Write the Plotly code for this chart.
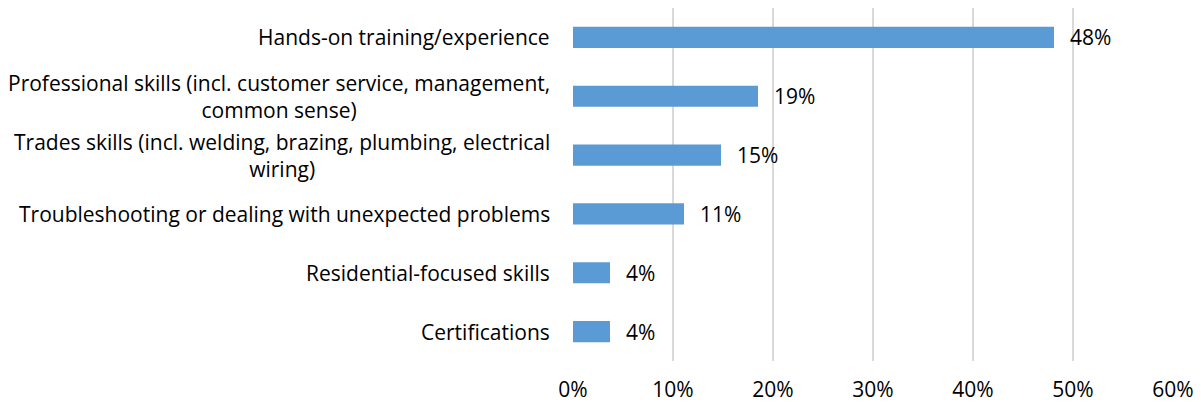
import plotly.graph_objects as go

categories = [
    "Hands-on training/experience",
    "Professional skills (incl. customer service, management,<br>common sense)",
    "Trades skills (incl. welding, brazing, plumbing, electrical<br>wiring)",
    "Troubleshooting or dealing with unexpected problems",
    "Residential-focused skills",
    "Certifications",
]
values = [48.1, 18.5, 14.8, 11.1, 3.7, 3.7]
value_labels = ["48%", "19%", "15%", "11%", "4%", "4%"]
x_ticks = [0, 10, 20, 30, 40, 50, 60]
x_tick_labels = ["0%", "10%", "20%", "30%", "40%", "50%", "60%"]

FONT = "'Open Sans', sans-serif"
FS = 21
ids = list(range(len(categories)))

fig = go.Figure()
fig.add_trace(go.Bar(
    x=values, y=ids, orientation="h",
    marker=dict(color="#5b9bd5", line=dict(width=0)),
    width=0.36, hoverinfo="skip",
))

for i, (v, t) in enumerate(zip(values, value_labels)):
    fig.add_annotation(x=v, y=i, text=t, showarrow=False, xanchor="left",
                       xshift=14, font=dict(family=FONT, size=FS, color="#000"))

for i, c in enumerate(categories):
    fig.add_annotation(x=0, xref="paper", y=i, yref="y", text=c, showarrow=False,
                       xanchor="right", align="center", xshift=-21,
                       font=dict(family=FONT, size=FS, color="#000"))

# page body has an 8px margin, so the figure is sized to fit the 1201x403 window
fig.update_layout(
    width=1193, height=395,
    margin=dict(l=565, r=28, t=0, b=42, autoexpand=False),
    paper_bgcolor="white", plot_bgcolor="white",
    showlegend=False,
    xaxis=dict(range=[0, 60], tickvals=x_ticks, ticktext=x_tick_labels,
               showgrid=True, gridcolor="#d9d9d9", gridwidth=2,
               zeroline=False, showline=False, ticks="", automargin=False,
               ticklabelstandoff=14,
               tickfont=dict(family=FONT, size=FS, color="#000")),
    yaxis=dict(range=[5.5, -0.5], showticklabels=False, showgrid=False,
               zeroline=False, showline=False, ticks="", automargin=False),
)
fig.write_html("out.html")
